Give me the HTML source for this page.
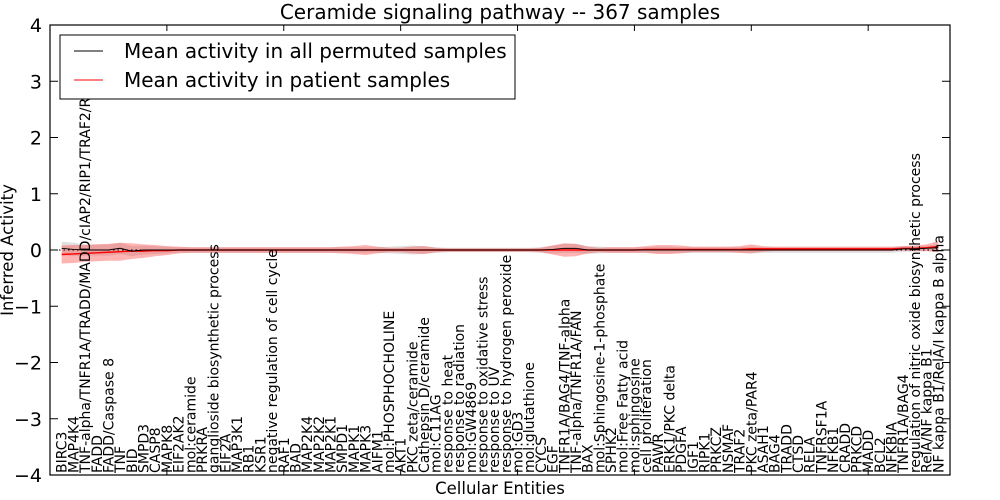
<!DOCTYPE html>
<html><head><meta charset="utf-8"><style>
body{margin:0;background:#fff;}
svg{display:block;font-family:"DejaVu Sans","Liberation Sans",sans-serif;}
</style></head><body>
<svg id="chart" width="1000" height="500">
<rect x="0" y="0" width="1000" height="500" fill="#fff"/>
<g id="bands"></g><g id="lines"></g><g id="ticks"></g><g id="labels"></g>
<rect x="50" y="25" width="900" height="450" fill="none" stroke="#000" stroke-width="1.2"/>
<text x="500" y="19" font-size="20" text-anchor="middle">Ceramide signaling pathway -- 367 samples</text>
<text x="13" y="250" font-size="16.5" text-anchor="middle" transform="rotate(-90 13 250)">Inferred Activity</text>
<text x="500" y="494" font-size="16.5" text-anchor="middle">Cellular Entities</text>
<g>
<rect x="60" y="35" width="455" height="64" fill="#fff" stroke="#000" stroke-width="1"/>
<line x1="74" y1="51" x2="103" y2="51" stroke="#000" stroke-width="1"/>
<text x="124" y="58" font-size="20">Mean activity in all permuted samples</text>
<line x1="74" y1="80" x2="103" y2="80" stroke="#f00" stroke-width="1"/>
<text x="124" y="87" font-size="20">Mean activity in patient samples</text>
</g>
</svg>
<script>
const categories=["BIRC3","MAP4K4","TNF-alpha/TNFR1A/TRADD/MADD/cIAP2/RIP1/TRAF2/RIP","FADD","FADD/Caspase 8","TNF","BID","SMPD3","CASP8","MAPK8","EIF2AK2","mol:ceramide","PRKRA","ganglioside biosynthetic process","EIF2A","MAP3K1","RB1","KSR1","negative regulation of cell cycle","RAF1","BAD","MAP2K4","MAP2K2","MAP2K1","SMPD1","MAPK1","MAPK3","AIFM1","mol:PHOSPHOCHOLINE","AKT1","PKC zeta/ceramide","Cathepsin D/ceramide","mol:C11AG","response to heat","response to radiation","mol:GW4869","response to oxidative stress","response to UV","response to hydrogen peroxide","mol:GD3","mol:glutathione","CYCS","EGF","TNFR1A/BAG4/TNF-alpha","TNF-alpha/TNFR1A/FAN","BAX","mol:Sphingosine-1-phosphate","SPHK2","mol:Free Fatty acid","mol:sphingosine","cell proliferation","PAWR","ERK1/PKC delta","PDGFA","IGF1","RIPK1","PRKCZ","NSMAF","TRAF2","PKC zeta/PAR4","ASAH1","BAG4","TRADD","CTSD","RELA","TNFRSF1A","NFKB1","CRADD","PRKCD","MADD","BCL2","NFKBIA","TNFR1A/BAG4","regulation of nitric oxide biosynthetic process","RelA/NF kappa B1","NF kappa B1/RelA/I kappa B alpha"];
const permutedMean=[0.03,0.01,0.0,0.0,0.0,0.03,-0.02,0.0,0,0,0,0,0,0,0,0,0,0,0,0,0,0,0,0,0,0,0,0,0,0,0,0,0,0,0,0,0,0,0,0,0,0,0.01,0.03,0.03,0,0,0,0,0,0,0,0,0,0,0,0,0,0,0,0,0,0,0,0,0,0,0,0,0,0,0,0.02,0.02,0.03,0.04];
const patientMean=[-0.08,-0.07,-0.06,-0.05,-0.04,-0.03,-0.02,-0.02,-0.01,-0.01,0,0,0,0,0,0,0,0,0,0,0,0,0,0,0,0,0,0,0,0,0,0,0,0,0,0,0,0,0,0,0,0,0,0,0,0,0,0,0,0,0.01,0.01,0.01,0.01,0.01,0.01,0.01,0.01,0.01,0.02,0.02,0.02,0.02,0.02,0.02,0.02,0.02,0.02,0.02,0.02,0.02,0.02,0.03,0.03,0.04,0.06];
const patientSpread=[0.16,0.16,0.15,0.15,0.15,0.16,0.14,0.12,0.1,0.08,0.06,0.05,0.05,0.05,0.05,0.05,0.05,0.05,0.05,0.05,0.05,0.05,0.05,0.05,0.06,0.07,0.09,0.06,0.04,0.04,0.06,0.07,0.04,0.03,0.03,0.03,0.03,0.03,0.03,0.03,0.03,0.04,0.08,0.12,0.11,0.06,0.04,0.05,0.05,0.05,0.06,0.08,0.08,0.07,0.05,0.05,0.05,0.05,0.06,0.08,0.05,0.04,0.04,0.04,0.04,0.04,0.04,0.04,0.04,0.04,0.04,0.04,0.04,0.05,0.06,0.1];
const permutedSpread=[0.12,0.12,0.1,0.1,0.1,0.1,0.09,0.08,0.07,0.06,0.05,0.05,0.05,0.05,0.05,0.05,0.05,0.05,0.05,0.05,0.05,0.05,0.05,0.05,0.05,0.05,0.05,0.05,0.06,0.07,0.08,0.07,0.05,0.04,0.04,0.04,0.04,0.04,0.04,0.04,0.04,0.05,0.07,0.08,0.08,0.07,0.06,0.05,0.05,0.05,0.05,0.06,0.06,0.05,0.05,0.05,0.05,0.05,0.05,0.06,0.05,0.05,0.05,0.05,0.05,0.05,0.05,0.05,0.05,0.05,0.05,0.05,0.05,0.05,0.05,0.06];
const yTicks=[-4,-3,-2,-1,0,1,2,3,4];
const xTicks=[10,20,30,40,50,60,70];
const NS="http://www.w3.org/2000/svg";
const X=v=>50+v*(900/77);
const Y=v=>250-v*56.25;
function mk(tag,attrs,parent){const e=document.createElementNS(NS,tag);for(const k in attrs)e.setAttribute(k,attrs[k]);document.getElementById(parent).appendChild(e);return e;}
function band(mean,spr){let up=[],dn=[];mean.forEach((m,i)=>{up.push(X(i+1)+','+Y(m+spr[i]));dn.unshift(X(i+1)+','+Y(m-spr[i]));});return up.concat(dn).join(' ');}
let g=mk('polygon',{points:band(permutedMean,permutedSpread),fill:'#bbb','fill-opacity':'0.45'},'bands');


let r=mk('polygon',{points:band(patientMean,patientSpread),fill:'#f44','fill-opacity':'0.4'},'bands');


let z=mk('line',{x1:50,x2:950,y1:Y(0),y2:Y(0),stroke:'#000','stroke-dasharray':'1.5,3','stroke-width':1},'lines');


let pr=mk('polyline',{points:patientMean.map((m,i)=>X(i+1)+','+Y(m)).join(' '),fill:'none',stroke:'#f00','stroke-width':1.5},'lines');


let pb=mk('polyline',{points:permutedMean.map((m,i)=>X(i+1)+','+Y(m)).join(' '),fill:'none',stroke:'#000','stroke-width':1},'lines');


yTicks.forEach(v=>{
 mk('line',{x1:50,x2:58,y1:Y(v),y2:Y(v),stroke:'#000'},'ticks');
 mk('line',{x1:942,x2:950,y1:Y(v),y2:Y(v),stroke:'#000'},'ticks');
 const t=mk('text',{x:42,y:Y(v)+7,'font-size':19,'text-anchor':'end'},'ticks');
 t.textContent=(v<0?'\u2212'+(-v):v);
 
 
});
xTicks.forEach(v=>{
 mk('line',{x1:X(v),x2:X(v),y1:25,y2:31,stroke:'#000'},'ticks');
 mk('line',{x1:X(v),x2:X(v),y1:469,y2:475,stroke:'#000'},'ticks');
});
categories.forEach((c,i)=>{
 const x=X(i+1)+5,y=473;
 const t=mk('text',{x:x,y:y,'font-size':14,transform:'rotate(-90 '+x+' '+y+')'},'labels');
 t.textContent=c;
 
 
});
</script>
</body></html>
